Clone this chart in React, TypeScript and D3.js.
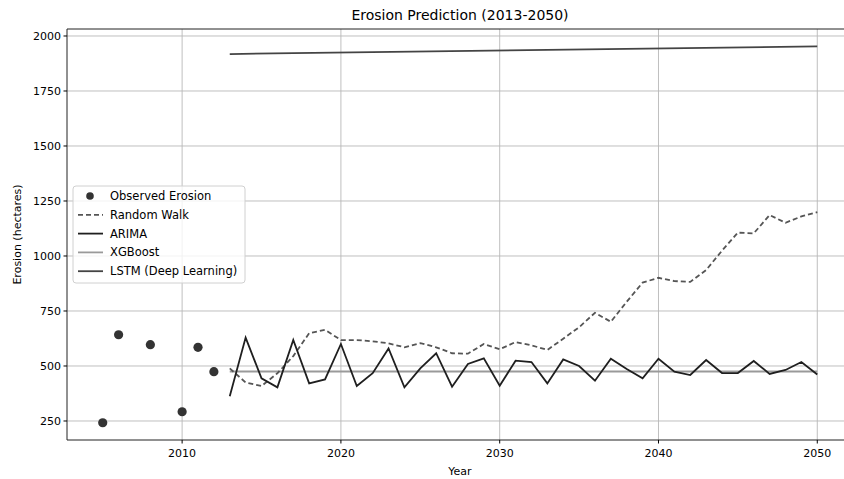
import { useMemo } from 'react';
import * as d3 from 'd3';

// observed data
const observedYears = [2005, 2006, 2008, 2010, 2011, 2012];
const observedValues = [242, 642, 597, 292, 585, 474];

// forecast years 2013..2050
const forecastYears = [
    2013, 2014, 2015, 2016, 2017, 2018, 2019, 2020, 2021, 2022,
    2023, 2024, 2025, 2026, 2027, 2028, 2029, 2030, 2031, 2032,
    2033, 2034, 2035, 2036, 2037, 2038, 2039, 2040, 2041, 2042,
    2043, 2044, 2045, 2046, 2047, 2048, 2049, 2050
];

const randomWalk = [
    489, 425, 409, 467, 545, 649, 664, 618, 618, 612,
    603, 585, 604, 585, 558, 556, 600, 576, 609, 594,
    573, 624, 676, 742, 701, 792, 879, 901, 886, 882,
    936, 1024, 1106, 1103, 1186, 1151, 1180, 1199
];

const arima = [
    362, 629, 444, 403, 618, 421, 439, 600, 409, 467,
    580, 403, 489, 558, 406, 509, 535, 410, 524, 518,
    421, 530, 500, 433, 533, 486, 444, 533, 474, 459,
    527, 468, 468, 523, 464, 482, 518, 461
];

const xgbYears = [2013, 2050];
const xgbValues = [475, 475];

const lstmYears = [2013, 2050];
const lstmValues = [1918, 1953];

const yTicks = [250, 500, 750, 1000, 1250, 1500, 1750, 2000];
const xTicks = [2010, 2020, 2030, 2040, 2050];

const legendItems = [
    { label: 'Observed Erosion', kind: 'dot', color: '#333333', dash: '' },
    { label: 'Random Walk', kind: 'line', color: '#555555', dash: '5,3' },
    { label: 'ARIMA', kind: 'line', color: '#1f1f1f', dash: '' },
    { label: 'XGBoost', kind: 'line', color: '#9a9a9a', dash: '' },
    { label: 'LSTM (Deep Learning)', kind: 'line', color: '#444444', dash: '' }
];

const W = 844;
const H = 479;
const FONT = '"DejaVu Sans", sans-serif';

export default function App() {
    const margin = { left: 67, right: 853, top: 29, bottom: 440 };

    const x = useMemo(() => d3.scaleLinear().domain([2002.75, 2052.25]).range([margin.left, margin.right]), []);
    const y = useMemo(() => d3.scaleLinear().domain([163.6, 2031.8]).range([margin.bottom, margin.top]), []);

    const line = d3.line<[number, number]>()
        .x(d => x(d[0]))
        .y(d => y(d[1]));

    const rwPath = line(forecastYears.map((yr, i) => [yr, randomWalk[i]]));
    const arPath = line(forecastYears.map((yr, i) => [yr, arima[i]]));
    const xgPath = line(xgbYears.map((yr, i) => [yr, xgbValues[i]]));
    const lsPath = line(lstmYears.map((yr, i) => [yr, lstmValues[i]]));

    const legX = 73;
    const legY = 186;
    const rowH = 18.8;

    return (
        <div style={{ position: 'fixed', left: 0, top: 0, width: W, height: H, background: '#fff' }}>
            <svg width={W} height={H} style={{ display: 'block', fontFamily: FONT }}>
                <rect x={0} y={0} width={W} height={H} fill="#fff" />

                {/* grid */}
                <g stroke="#b8b8b8" strokeWidth={0.9}>
                    {xTicks.map(t => (
                        <line key={'gx' + t} x1={x(t)} x2={x(t)} y1={margin.top} y2={margin.bottom} />
                    ))}
                    {yTicks.map(t => (
                        <line key={'gy' + t} x1={margin.left} x2={margin.right} y1={y(t)} y2={y(t)} />
                    ))}
                </g>

                {/* series */}
                <path d={lsPath || ''} fill="none" stroke="#444444" strokeWidth={1.8} />
                <path d={xgPath || ''} fill="none" stroke="#9a9a9a" strokeWidth={1.8} />
                <path d={rwPath || ''} fill="none" stroke="#555555" strokeWidth={1.8} strokeDasharray="5,3" />
                <path d={arPath || ''} fill="none" stroke="#1f1f1f" strokeWidth={1.8} />
                {observedYears.map((yr, i) => (
                    <circle key={'o' + yr} cx={x(yr)} cy={y(observedValues[i])} r={4.6} fill="#333333" />
                ))}

                {/* spines */}
                <g stroke="#222" strokeWidth={1} fill="none">
                    <line x1={margin.left} x2={margin.left} y1={margin.top} y2={margin.bottom} />
                    <line x1={margin.left} x2={margin.right} y1={margin.bottom} y2={margin.bottom} />
                    <line x1={margin.left} x2={margin.right} y1={margin.top} y2={margin.top} />
                </g>

                {/* ticks */}
                <g fontSize={11} fill="#000">
                    {yTicks.map(t => (
                        <g key={'ty' + t}>
                            <line x1={margin.left - 3.5} x2={margin.left} y1={y(t)} y2={y(t)} stroke="#000" />
                            <text x={margin.left - 6} y={y(t)} dy="0.35em" textAnchor="end">{t}</text>
                        </g>
                    ))}
                    {xTicks.map(t => (
                        <g key={'tx' + t}>
                            <line x1={x(t)} x2={x(t)} y1={margin.bottom} y2={margin.bottom + 3.5} stroke="#000" />
                            <text x={x(t)} y={margin.bottom + 17} textAnchor="middle">{t}</text>
                        </g>
                    ))}
                </g>

                {/* labels */}
                <text x={(margin.left + margin.right) / 2} y={20} textAnchor="middle" fontSize={14}>
                    Erosion Prediction (2013-2050)
                </text>
                <text x={(margin.left + margin.right) / 2} y={475} textAnchor="middle" fontSize={11}>Year</text>
                <text transform={`translate(21, ${(margin.top + margin.bottom) / 2}) rotate(-90)`} textAnchor="middle" fontSize={11}>
                    Erosion (hectares)
                </text>

                {/* legend */}
                <g>
                    <rect x={legX} y={legY} width={172} height={97} rx={3} fill="#fff" fillOpacity={0.8} stroke="#d0d0d0" />
                    {legendItems.map((item, i) => {
                        const cy = legY + 10 + i * rowH;
                        return (
                            <g key={item.label}>
                                {item.kind === 'dot'
                                    ? <circle cx={legX + 17} cy={cy} r={3.8} fill={item.color} />
                                    : <line x1={legX + 5} x2={legX + 30} y1={cy} y2={cy} stroke={item.color} strokeWidth={1.8} strokeDasharray={item.dash || undefined} />}
                                <text x={legX + 37} y={cy} dy="0.35em" fontSize={11.5}>{item.label}</text>
                            </g>
                        );
                    })}
                </g>
            </svg>
        </div>
    );
}
